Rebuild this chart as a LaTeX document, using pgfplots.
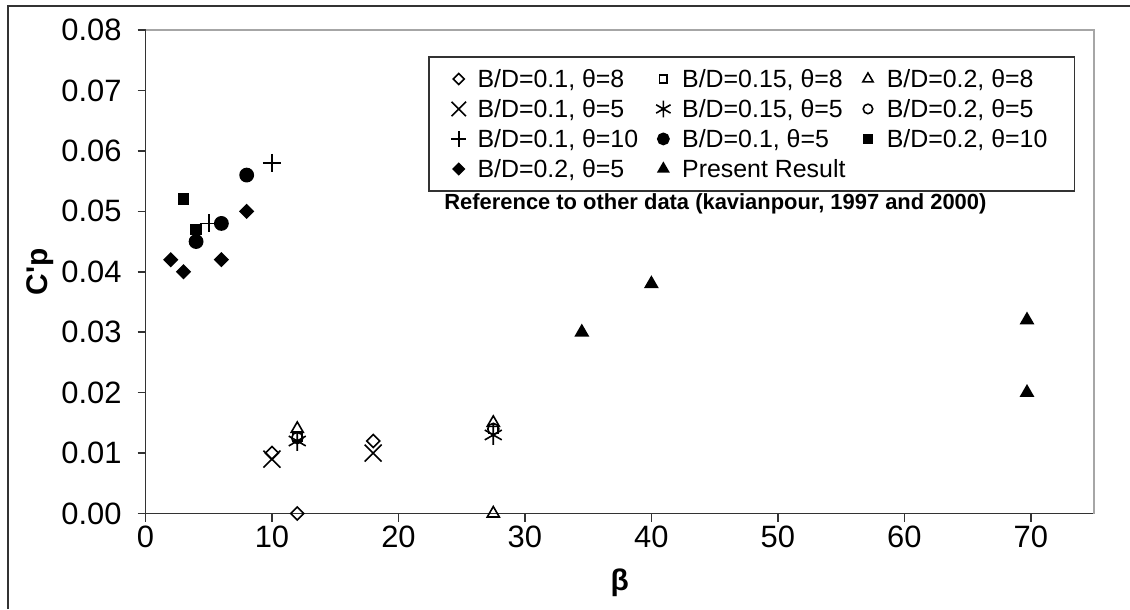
\documentclass[border=0pt]{standalone}
\usepackage{fontspec}
\setmainfont{Liberation Sans}
\usepackage{pgfplots}
\pgfplotsset{compat=1.18}

\begin{document}
\begin{tikzpicture}[x=1bp,y=1bp]
\useasboundingbox (0,0) rectangle (565,-304.5);
\draw[line width=1bp, black!80] (4,-304.5) -- (4,-3) -- (565,-3);
\begin{axis}[
    at={(72.75bp,-256.75bp)}, anchor=south west,
    scale only axis, width=474.25bp, height=241.75bp,
    xmin=0, xmax=75, ymin=0, ymax=0.08,
    xtick={0,10,20,30,40,50,60,70},
    ytick={0,0.01,0.02,0.03,0.04,0.05,0.06,0.07,0.08},
    scaled y ticks=false,
    yticklabel style={xshift=-4.5bp, /pgf/number format/fixed, /pgf/number format/fixed zerofill, /pgf/number format/precision=2},
    xticklabel style={yshift=1.5bp},
    /pgf/number format/assume math mode=true,
    ticklabel style={font=\fontsize{15.5}{18}\selectfont},
    axis x line*=bottom, axis y line*=left,
    axis line style={black!80, line width=0.8bp, -},
    tick align=outside, major tick length=4bp,
    tick style={black!80, line width=0.8bp},
    every axis plot/.append style={line width=0.8bp, black},
    every axis y label/.style={at={(axis description cs:-0.111,0.5)}, rotate=90, anchor=center},
    every axis x label/.style={at={(axis description cs:0.5,-0.144)}, anchor=center},
    label style={font=\bfseries\fontsize{15}{18}\selectfont},
    ylabel={C\textquotesingle p},
    xlabel={β},
    clip=false,
    legend columns=3,
    legend image code/.code={\draw[#1,/tikz/every mark/.append style={scale=0.85}] plot coordinates {(0,0)}; \path (-5bp,0) (5bp,0);},
    legend style={at={(0.298,0.946)}, anchor=north west, draw=black!80, line width=0.8bp,
      inner xsep=9.5bp, inner ysep=3.5bp, font=\fontsize{12.5}{15}\selectfont,
      nodes={text height=10bp, text depth=1.5bp, inner ysep=1.75bp, inner xsep=4bp},
      row sep=0pt, column sep=0pt},
    legend cell align=left,
  ]
  % B/D=0.1, theta=8
  \addplot[only marks, mark=square, mark size=2.3bp, mark options={rotate=45}] coordinates {(10,0.010) (12,0.000) (18,0.012)};
  \addlegendentry{\makebox[83.5bp][l]{B/D=0.1, θ=8}}
  % B/D=0.15, theta=8
  \addplot[only marks, mark=square, mark size=2.3bp] coordinates {(12,0.0128) (27.5,0.014)};
  \addlegendentry{\makebox[83.5bp][l]{B/D=0.15, θ=8}}
  % B/D=0.2, theta=8
  \addplot[only marks, mark=triangle, mark size=3.5bp] coordinates {(12,0.014) (27.5,0.015) (27.5,0.000)};
  \addlegendentry{B/D=0.2, θ=8}
  % B/D=0.1, theta=5
  \addplot[only marks, mark=x, mark size=6bp] coordinates {(10,0.009) (18,0.010)};
  \addlegendentry{\makebox[83.5bp][l]{B/D=0.1, θ=5}}
  % B/D=0.15, theta=5
  \addplot[only marks, mark=asterisk, mark size=4.9bp] coordinates {(12,0.012) (27.5,0.013)};
  \addlegendentry{\makebox[83.5bp][l]{B/D=0.15, θ=5}}
  % B/D=0.2, theta=5
  \addplot[only marks, mark=o, mark size=2.8bp] coordinates {(12,0.0125) (27.5,0.014)};
  \addlegendentry{B/D=0.2, θ=5}
  % B/D=0.1, theta=10
  \addplot[only marks, mark=+, mark size=4.5bp] coordinates {(5,0.048) (10,0.058)};
  \addlegendentry{\makebox[83.5bp][l]{B/D=0.1, θ=10}}
  % B/D=0.1, theta=5 (filled)
  \addplot[only marks, mark=*, mark size=3.3bp] coordinates {(4,0.045) (6,0.048) (8,0.056)};
  \addlegendentry{\makebox[83.5bp][l]{B/D=0.1, θ=5}}
  % B/D=0.2, theta=10
  \addplot[only marks, mark=square*, mark size=2.5bp] coordinates {(3,0.052) (4,0.047)};
  \addlegendentry{B/D=0.2, θ=10}
  % B/D=0.2, theta=5 (filled)
  \addplot[only marks, mark=square*, mark size=2.3bp, mark options={rotate=45}] coordinates {(2,0.042) (3,0.040) (6,0.042) (8,0.050)};
  \addlegendentry{\makebox[83.5bp][l]{B/D=0.2, θ=5}}
  % present result
  \addplot[only marks, mark=triangle*, mark size=3.5bp] coordinates {(34.5,0.030) (40,0.038) (69.7,0.032) (69.7,0.020)};
  \addlegendentry{\makebox[83.5bp][l]{Present Result}}

  \draw[gray!70, line width=1bp] (rel axis cs:0,1) -- (rel axis cs:1,1) -- (rel axis cs:1,0);
  \node[font=\bfseries\fontsize{11}{13}\selectfont, anchor=base west, inner sep=0pt] at (rel axis cs:0.3147,0.6298) {Reference to other data (kavianpour, 1997 and 2000)};
\end{axis}
\end{tikzpicture}
\end{document}
